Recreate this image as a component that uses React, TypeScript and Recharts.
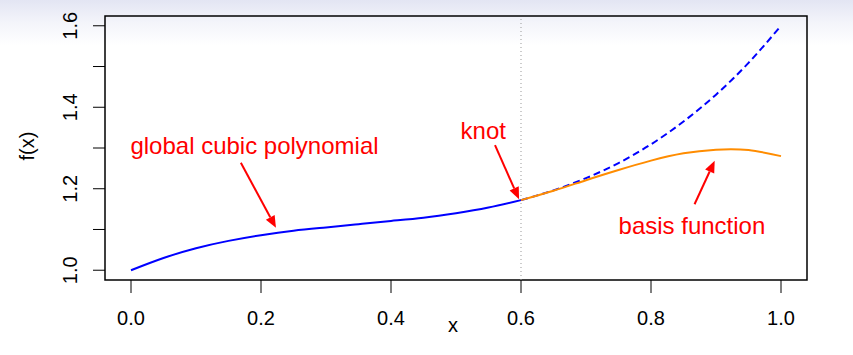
import {
  Line,
  LineChart,
  ReferenceArea,
  ReferenceDot,
  ReferenceLine,
  XAxis,
  YAxis,
} from "recharts";

// x grid and the fitted curves
const xValues = [0, 0.05, 0.1, 0.15, 0.2, 0.25, 0.3, 0.35, 0.4, 0.45, 0.5, 0.55, 0.6, 0.65, 0.7, 0.75, 0.8, 0.85, 0.9, 0.95, 1.0];
const globalCubic = [1.0, 1.03, 1.054, 1.072, 1.086, 1.097, 1.105, 1.113, 1.121, 1.129, 1.14, 1.154, 1.172, 1.196, 1.226, 1.263, 1.309, 1.365, 1.431, 1.509, 1.6];
const basisX = [0.6, 0.65, 0.7, 0.75, 0.8, 0.85, 0.9, 0.95, 1.0];
const basisFunction = [1.172, 1.195, 1.221, 1.246, 1.269, 1.287, 1.296, 1.295, 1.28];
const knot = 0.6;

const xTicks = [0, 0.2, 0.4, 0.6, 0.8, 1.0];
const xTickLabels = ["0.0", "0.2", "0.4", "0.6", "0.8", "1.0"];
const yTicks = [1.0, 1.1, 1.2, 1.3, 1.4, 1.5, 1.6];
const yTickLabels = ["1.0", "", "1.2", "", "1.4", "", "1.6"];

const labels = [
  { text: "global cubic polynomial", x: 0.19, y: 1.307 },
  { text: "knot", x: 0.542, y: 1.342 },
  { text: "basis function", x: 0.863, y: 1.11 },
];
const arrows = [
  { x1: 0.169, y1: 1.264, x2: 0.223, y2: 1.104 },
  { x1: 0.56, y1: 1.307, x2: 0.597, y2: 1.174 },
  { x1: 0.867, y1: 1.162, x2: 0.898, y2: 1.269 },
];

const data = xValues.map((x, i) => {
  const b = basisX.indexOf(x);
  return {
    x,
    solid: x <= knot ? globalCubic[i] : null,
    dashed: x >= knot ? globalCubic[i] : null,
    basis: b >= 0 ? basisFunction[b] : null,
  };
});

const FONT = "'Liberation Sans', Arial, sans-serif";
const RED = "#ff0000";

function Arrow(props: any) {
  const { x1, y1, x2, y2 } = props;
  const a = Math.atan2(y2 - y1, x2 - x1);
  const len = 12;
  const w = 5;
  const bx = x2 - len * Math.cos(a);
  const by = y2 - len * Math.sin(a);
  const px = -Math.sin(a) * w;
  const py = Math.cos(a) * w;
  return (
    <g>
      <line x1={x1} y1={y1} x2={bx} y2={by} stroke={RED} strokeWidth={2} />
      <polygon points={`${x2},${y2} ${bx + px},${by + py} ${bx - px},${by - py}`} fill={RED} />
    </g>
  );
}

function XTick({ x, y, payload, index }: any) {
  return (
    <text x={x} y={y + 23} textAnchor="middle" dominantBaseline="central" fontSize={20} fontFamily={FONT} fill="#000">
      {xTickLabels[index] ?? payload.value}
    </text>
  );
}

function YTick({ x, y, index }: any) {
  const cx = x - 21;
  return (
    <text
      x={cx}
      y={y}
      transform={`rotate(-90, ${cx}, ${cy(y)})`}
      textAnchor="middle"
      dominantBaseline="central"
      fontSize={20}
      fontFamily={FONT}
      fill="#000"
    >
      {yTickLabels[index]}
    </text>
  );
}

const cy = (y: number) => y;

export default function App() {
  return (
    <div
      style={{
        position: "absolute",
        left: 0,
        top: 0,
        width: 853,
        height: 355,
        background: "linear-gradient(to bottom, #e3e5f3 0px, #f3f4fa 22px, #ffffff 45px)",
      }}
    >
      <LineChart width={853} height={355} data={data} margin={{ top: 16, right: 46, bottom: 35, left: 25 }}>
        <XAxis
          dataKey="x"
          type="number"
          domain={[-0.04, 1.04]}
          allowDataOverflow
          ticks={xTicks}
          tick={<XTick />}
          tickSize={13}
          tickLine={{ stroke: "#000", strokeWidth: 1 }}
          axisLine={false}
          height={40}
          label={{
            content: ({ viewBox }: any) => (
              <text
                x={viewBox.x + viewBox.width / 2 - 3}
                y={viewBox.y + 52}
                textAnchor="middle"
                fontSize={20}
                fontFamily={FONT}
                fill="#000"
              >
                x
              </text>
            ),
          }}
        />
        <YAxis
          type="number"
          domain={[0.976, 1.624]}
          allowDataOverflow
          ticks={yTicks}
          tick={<YTick />}
          tickSize={12}
          tickLine={{ stroke: "#000", strokeWidth: 1 }}
          axisLine={false}
          width={80}
          label={{
            content: ({ viewBox }: any) => {
              const lx = viewBox.x + 2;
              const ly = 146;
              return (
                <text
                  x={lx}
                  y={ly}
                  transform={`rotate(-90, ${lx}, ${ly})`}
                  textAnchor="middle"
                  dominantBaseline="central"
                  fontSize={20}
                  fontFamily={FONT}
                  fill="#000"
                >
                  f(x)
                </text>
              );
            },
          }}
        />
        <ReferenceArea
          x1={-0.04}
          x2={1.04}
          y1={0.976}
          y2={1.624}
          fill="none"
          fillOpacity={0}
          stroke="#000"
          strokeWidth={1.5}
          ifOverflow="visible"
        />
        <ReferenceLine x={knot} stroke="#999" strokeDasharray="1 3" strokeWidth={1} />
        <Line dataKey="solid" type="natural" stroke="#0000ff" strokeWidth={2} dot={false} isAnimationActive={false} />
        <Line dataKey="dashed" type="natural" stroke="#0000ff" strokeWidth={2} strokeDasharray="7 4" dot={false} isAnimationActive={false} />
        <Line dataKey="basis" type="natural" stroke="#ff8c00" strokeWidth={2} dot={false} isAnimationActive={false} />
        {arrows.map((a, i) => (
          <ReferenceLine
            key={`arrow-${i}`}
            segment={[
              { x: a.x1, y: a.y1 },
              { x: a.x2, y: a.y2 },
            ]}
            ifOverflow="visible"
            shape={<Arrow />}
          />
        ))}
        {labels.map((l) => (
          <ReferenceDot
            key={l.text}
            x={l.x}
            y={l.y}
            r={0}
            ifOverflow="visible"
            shape={(p: any) => (
              <text
                x={p.cx}
                y={p.cy}
                textAnchor="middle"
                dominantBaseline="central"
                fontSize={24}
                fontFamily={FONT}
                fill={RED}
              >
                {l.text}
              </text>
            )}
          />
        ))}
      </LineChart>
    </div>
  );
}
